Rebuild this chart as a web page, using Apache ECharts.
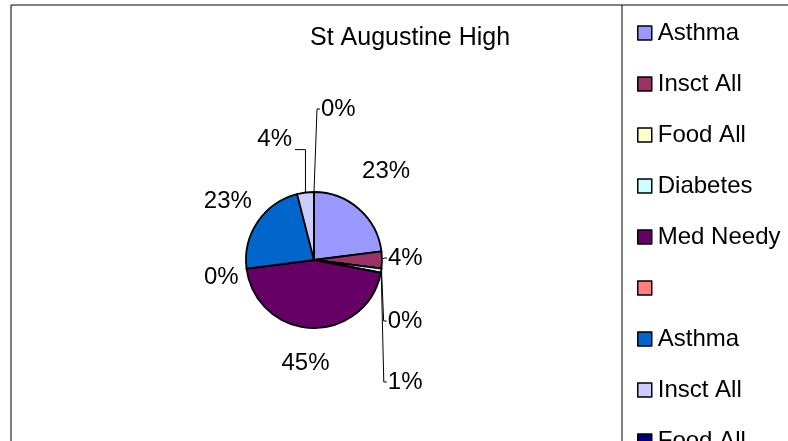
<!DOCTYPE html>
<html>
<head>
<meta charset="utf-8">
<script src="https://cdn.jsdelivr.net/npm/echarts@6/dist/echarts.min.js"></script>
<style>
  html, body { margin: 0; padding: 0; background: #fff; }
  #main { width: 788px; height: 441px; }
</style>
</head>
<body>
<div id="main"></div>
<script>
// slice names (duplicates get a suffix so the legend keeps them apart)
var names = ['Asthma', 'Insct All', 'Food All', 'Diabetes', 'Med Needy', '', 'Asthma', 'Insct All', 'Food All'];
var percents = [23, 4, 0, 1, 45, 0, 23, 4, 0];
var colors = ['#9999FF', '#993366', '#FFFFCC', '#CCFFFF', '#660066', '#FF8080', '#0066CC', '#CCCCFF', '#000080'];

// label nudges, to follow the spreadsheet's own label placement
var labelNudge = [[-17, -35], [-12, -2], [-8, 35], [7, 70], [29, 23], [15, 7], [15, -14], [-1, -41], [-4, -71]];
var leaderShown = [false, true, true, true, false, false, false, true, true];

var font = '"Liberation Sans", Arial, sans-serif';

var keys = names.map(function (n, i) { return n + '#' + i; });
var pieData = percents.map(function (v, i) {
  return {
    name: keys[i],
    value: v,
    itemStyle: { color: colors[i] },
    labelLine: { show: leaderShown[i] }
  };
});

var chart = echarts.init(document.getElementById('main'));

var option = {
  backgroundColor: '#fff',
  animation: false,
  title: {
    text: 'St Augustine High',
    left: 305,
    top: 21,
    textStyle: { fontFamily: font, fontWeight: 'normal', fontSize: 25, color: '#000' }
  },
  legend: {
    orient: 'vertical',
    left: 632,
    top: 16,
    height: 600,
    itemWidth: 14,
    itemHeight: 14,
    itemGap: 27,
    icon: 'rect',
    selectedMode: false,
    data: keys,
    itemStyle: { borderColor: '#000', borderWidth: 1.5 },
    formatter: function (name) { return name.split('#')[0] || ' '; },
    textStyle: { fontFamily: font, fontSize: 24, color: '#000', padding: [0, 0, 0, 1] }
  },
  graphic: [
    {
      type: 'rect',
      shape: { x: 11, y: 5, width: 800, height: 460 },
      style: { fill: null, stroke: '#000', lineWidth: 1 },
      silent: true
    },
    {
      type: 'line',
      shape: { x1: 622, y1: 5, x2: 622, y2: 441 },
      style: { stroke: '#000', lineWidth: 1 },
      silent: true
    }
  ],
  series: [{
    type: 'pie',
    center: [314, 260],
    radius: [0, 68],
    startAngle: 90,
    clockwise: true,
    avoidLabelOverlap: true,
    minShowLabelAngle: 0,
    data: pieData,
    itemStyle: { borderColor: '#000', borderWidth: 1.8 },
    label: {
      show: true,
      position: 'outside',
      fontFamily: font,
      fontSize: 24,
      color: '#000',
      formatter: function (p) { return percents[p.dataIndex] + '%'; }
    },
    labelLine: {
      length: 12,
      length2: 6,
      lineStyle: { color: '#000', width: 1 }
    },
    labelLayout: function (p) {
      var n = labelNudge[p.dataIndex];
      var out = { dx: n[0], dy: n[1] };
      var pts = p.labelLinePoints;
      if (leaderShown[p.dataIndex] && pts && pts.length) {
        // elbow leader: up/down from the slice edge, then across to the label
        var p0 = pts[0];
        var r = p.labelRect;
        var lx = r.x + n[0], ly = r.y + n[1];
        var cy = ly + r.height / 2;
        if (lx > p0[0]) {
          var ex = Math.min(p0[0] + 3, lx - 4);
          out.labelLinePoints = [p0, [ex, cy], [lx - 1, cy]];
        } else {
          var rx = lx + r.width;
          var yy = cy + 10;
          out.labelLinePoints = [p0, [p0[0], yy], [rx + 3, yy]];
        }
      }
      return out;
    }
  }]
};

chart.setOption(option);
</script>
</body>
</html>
